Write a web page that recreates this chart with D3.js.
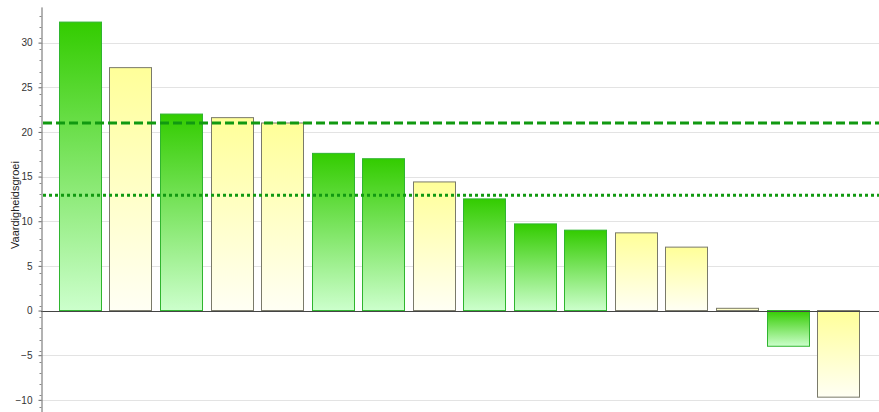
<!DOCTYPE html>
<html>
<head>
<meta charset="utf-8">
<script src="https://cdn.jsdelivr.net/npm/d3@7"></script>
<style>
  body { margin: 0; background: #fff; }
  svg { display: block; font-family: "Liberation Sans", Arial, sans-serif; }
</style>
</head>
<body>
<svg id="chart"></svg>
<script>
// bar values, left to right
var leerlingen = d3.range(1, 17).map(function(i) { return "L" + i; });
var groei = [32.3, 27.2, 22.0, 21.6, 21.0, 17.6, 17.0, 14.4, 12.5, 9.7, 9.0, 8.7, 7.1, 0.25, -4.0, -9.7];
var kleur = ["g", "y", "g", "y", "y", "g", "g", "y", "g", "g", "g", "y", "y", "y", "g", "y"];
var yTicks = [-10, -5, 0, 5, 10, 15, 20, 25, 30];
var refLines = [21.0, 12.9];   // dashed, dotted

var width = 879,
    height = 412;

var svg = d3.select("#chart")
    .attr("width", width)
    .attr("height", height);

var y = d3.scaleLinear()
    .domain([-12, 34])
    .range([417.7, 6.9]);

var x = d3.scaleBand()
    .domain(leerlingen)
    .range([40, 878])
    .paddingInner(0.169)
    .paddingOuter(0.375);

var defs = svg.append("defs");
var gGreen = defs.append("linearGradient").attr("id", "gGreen")
    .attr("x1", 0).attr("y1", 0).attr("x2", 0).attr("y2", 1);
gGreen.append("stop").attr("offset", "0%").attr("stop-color", "#33cc00");
gGreen.append("stop").attr("offset", "100%").attr("stop-color", "#ccffcc");
var gYellow = defs.append("linearGradient").attr("id", "gYellow")
    .attr("x1", 0).attr("y1", 0).attr("x2", 0).attr("y2", 1);
gYellow.append("stop").attr("offset", "0%").attr("stop-color", "#ffff99");
gYellow.append("stop").attr("offset", "100%").attr("stop-color", "#fffff4");

// grid
svg.append("g").selectAll("line")
    .data(yTicks.filter(function(d) { return d !== 0; }))
    .enter().append("line")
    .attr("x1", 41).attr("x2", width)
    .attr("y1", function(d) { return Math.round(y(d)) + 0.5; })
    .attr("y2", function(d) { return Math.round(y(d)) + 0.5; })
    .attr("stroke", "#e3e3e3")
    .attr("stroke-width", 1);

// bars
svg.append("g").selectAll("rect")
    .data(groei)
    .enter().append("rect")
    .attr("x", function(d, i) { return Math.round(x(leerlingen[i])) + 0.5; })
    .attr("width", Math.round(x.bandwidth()))
    .attr("y", function(d) { return y(Math.max(0, d)); })
    .attr("height", function(d) { return Math.abs(y(d) - y(0)); })
    .attr("fill", function(d, i) { return kleur[i] === "g" ? "url(#gGreen)" : "url(#gYellow)"; })
    .attr("stroke", function(d, i) { return kleur[i] === "g" ? "#2fb52f" : "#7a7a6a"; })
    .attr("stroke-width", 1);

// zero line
svg.append("line")
    .attr("x1", 41).attr("x2", width)
    .attr("y1", Math.round(y(0)) + 0.5).attr("y2", Math.round(y(0)) + 0.5)
    .attr("stroke", "#444")
    .attr("stroke-width", 1);

// reference lines
svg.append("line")
    .attr("x1", 43).attr("x2", width)
    .attr("y1", y(refLines[0])).attr("y2", y(refLines[0]))
    .attr("stroke", "#119911")
    .attr("stroke-width", 3)
    .attr("stroke-dasharray", "9,4");

svg.append("line")
    .attr("x1", 43).attr("x2", width)
    .attr("y1", y(refLines[1])).attr("y2", y(refLines[1]))
    .attr("stroke", "#119911")
    .attr("stroke-width", 3)
    .attr("stroke-dasharray", "3,3");

// y axis
var axis = svg.append("g")
    .attr("transform", "translate(41.5,0)")
    .call(d3.axisLeft(y).tickValues(yTicks).tickSize(3).tickPadding(6).tickSizeOuter(0));
axis.select(".domain").attr("stroke", "#666");
axis.selectAll(".tick line").attr("stroke", "#666");
axis.selectAll("text").attr("fill", "#333").style("font-size", "10px");

// minor ticks
var minor = d3.range(-12, 34.01, 1.25).filter(function(d) { return yTicks.indexOf(d) < 0; });
svg.append("g").selectAll("line")
    .data(minor)
    .enter().append("line")
    .attr("x1", 39.5).attr("x2", 41.5)
    .attr("y1", function(d) { return Math.round(y(d)) + 0.5; })
    .attr("y2", function(d) { return Math.round(y(d)) + 0.5; })
    .attr("stroke", "#888");

// y label
svg.append("text")
    .attr("transform", "translate(19," + 205 + ") rotate(-90)")
    .attr("text-anchor", "middle")
    .attr("fill", "#222")
    .style("font-size", "11px")
    .text("Vaardigheidsgroei");
</script>
</body>
</html>
